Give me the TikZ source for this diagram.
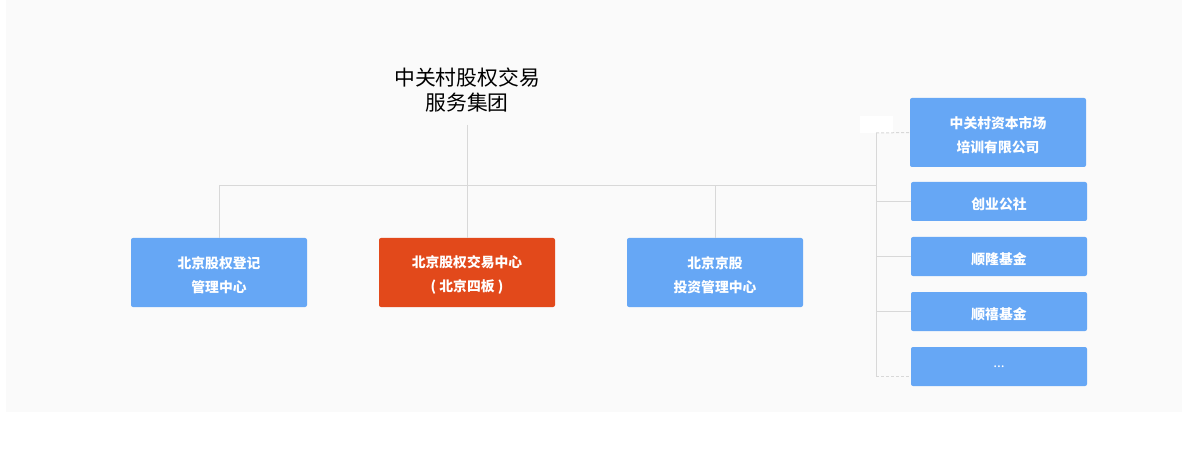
\documentclass[tikz,border=0pt]{standalone}
\usepackage{fontspec}
\newfontfamily\cjk{Noto Sans CJK SC}
\newcommand{\tstrut}{\rule{0pt}{16.5pt}}
\begin{document}
\begin{tikzpicture}[x=1pt,y=-1pt,
  panel/.style={fill=panelgray,draw=none},
  box/.style={rectangle,rounded corners=2pt,minimum width=176pt,draw=none,
    text=white,align=center,font=\cjk\bfseries\fontsize{13.8}{24}\selectfont,inner sep=0pt},
  bluebox/.style={box,fill=boxblue},
  redbox/.style={box,fill=boxred},
  conn/.style={draw=linegray,line width=1pt},
  dconn/.style={conn,dash pattern=on 3pt off 2pt},
  title/.style={align=center,font=\cjk\fontsize{20.8}{24.5}\selectfont,text=black}]
\definecolor{panelgray}{HTML}{FAFAFA}
\definecolor{boxblue}{HTML}{66A7F5}
\definecolor{boxred}{HTML}{E2491B}
\definecolor{linegray}{HTML}{D8D8D8}
\useasboundingbox (0,0) rectangle (1182,454);
\fill[white] (0,0) rectangle (1182,454);
\path[panel] (6,0) rectangle (1182,412);

\node[title] (top) at (467,90) {中关村股权交易\\服务集团};

\node[bluebox,minimum height=69pt] (b1) at (219,272.5) {\tstrut 北京股权登记\\管理中心};
\node[redbox,minimum height=69pt] (b2) at (467,272.5) {\tstrut 北京股权交易中心\\( 北京四板 )};
\node[bluebox,minimum height=69pt] (b3) at (715,272.5) {\tstrut 北京京股\\投资管理中心};

\node[bluebox,minimum height=69pt] (r1) at (998,132.5) {\tstrut 中关村资本市场\\培训有限公司};
\node[bluebox,minimum height=39pt] (r2) at (999,201.5) {\tstrut 创业公社};
\node[bluebox,minimum height=39pt] (r3) at (999,256.5) {\tstrut 顺隆基金};
\node[bluebox,minimum height=39pt] (r4) at (999,311.5) {\tstrut 顺禧基金};
\node[bluebox,minimum height=39pt,font=\cjk\fontsize{13.8}{24}\selectfont] (r5) at (999,366.5) {\raisebox{-2pt}{...}};

\node[fill=white,draw=none,minimum width=33pt,minimum height=17pt,inner sep=0pt] (tag) at (876.5,124.5) {};

\coordinate (trunk) at (467,125);
\coordinate (jl) at (219,186);
\coordinate (jr) at (715,186);
\coordinate (jc) at (876,186);
\coordinate (rtop) at (876,133);
\coordinate (rbot) at (876,376);

\draw[conn] (trunk) -- (b2.north);
\draw[conn] (jl) -- (jc);
\draw[conn] (jl) -- (b1.north);
\draw[conn] (jr) -- (b3.north);
\draw[conn] (rtop) -- (rbot);
\draw[dconn] (rtop) -- (r1.west);
\draw[conn] (r2.west -| rtop) -- (r2.west);
\draw[conn] (r3.west -| rtop) -- (r3.west);
\draw[conn] (r4.west -| rtop) -- (r4.west);
\draw[dconn] (rbot) -- (rbot -| r5.west);
\end{tikzpicture}
\end{document}
